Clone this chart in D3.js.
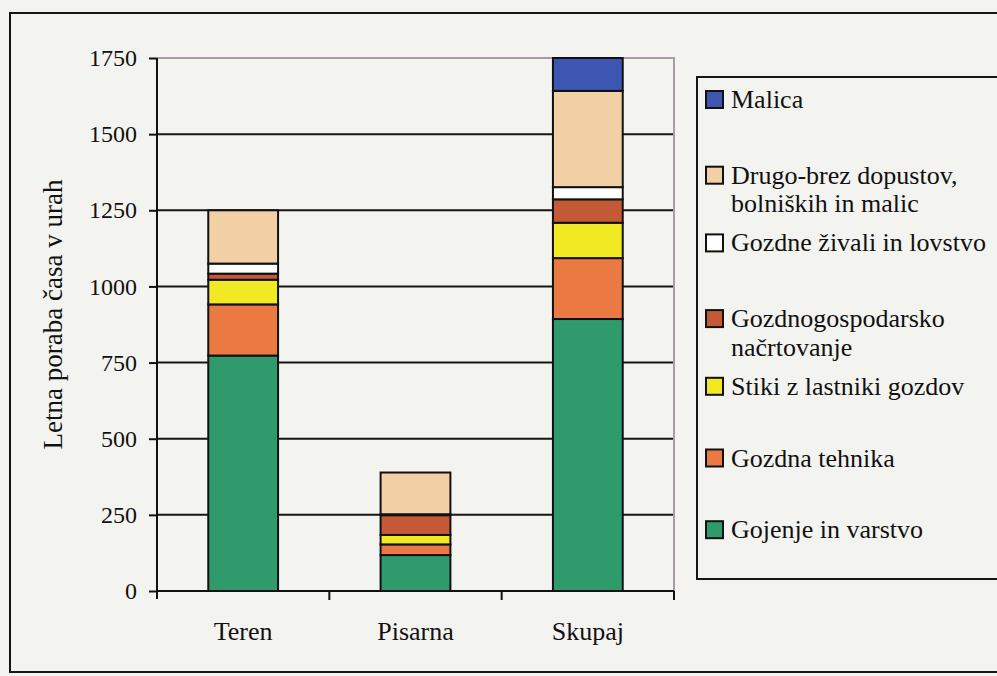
<!DOCTYPE html>
<html>
<head>
<meta charset="UTF-8">
<title>Letna poraba časa</title>
<script src="https://d3js.org/d3.v7.min.js"></script>
<style>
  body { margin: 0; background: #f3f3f0; }
  svg { display: block; }
  svg text { font-family: "Liberation Serif", "DejaVu Serif", serif; fill: #111; }
</style>
</head>
<body>
<svg width="997" height="676"></svg>
<script>
// data (hours per year)
var categories = ["Teren", "Pisarna", "Skupaj"];
var gojenje     = [773, 118, 893];
var tehnika     = [168,  35, 200];
var stiki       = [ 81,  31, 116];
var nacrtovanje = [ 20,  65,  77];
var zivali      = [ 33,   3,  40];
var drugo       = [175, 137, 316];
var malica      = [  0,   0, 108];

var yTicks = [0, 250, 500, 750, 1000, 1250, 1500, 1750];

// series bottom to top
var seriesNames = ["Gojenje in varstvo", "Gozdna tehnika", "Stiki z lastniki gozdov",
  "Gozdnogospodarsko načrtovanje", "Gozdne živali in lovstvo",
  "Drugo-brez dopustov, bolniških in malic", "Malica"];
var seriesValues = [gojenje, tehnika, stiki, nacrtovanje, zivali, drugo, malica];
var seriesColors = ["#2f9b6c", "#ea7a42", "#f1e922", "#c35a35", "#ffffff", "#f3cfa6", "#3d56b1"];
// legend text split as in the picture
var legendLines = [["Gojenje in varstvo"], ["Gozdna tehnika"], ["Stiki z lastniki gozdov"],
  ["Gozdnogospodarsko", "načrtovanje"], ["Gozdne živali in lovstvo"],
  ["Drugo-brez dopustov,", "bolniških in malic"], ["Malica"]];

var serif = "'Liberation Serif', 'DejaVu Serif', serif";

// build table for d3.stack
var table = categories.map(function(c, i) {
  var row = { cat: c };
  seriesNames.forEach(function(s, j) { row[s] = seriesValues[j][i]; });
  return row;
});

var svg = d3.select("svg");

// outer frame
svg.append("rect")
  .attr("x", 10).attr("y", 13)
  .attr("width", 1000).attr("height", 659)
  .attr("fill", "none").attr("stroke", "#151515").attr("stroke-width", 2);

var pLeft = 157, pRight = 674, pTop = 58, pBottom = 591;

var x = d3.scaleBand().domain(categories).range([pLeft, pRight])
  .paddingInner(0.595).paddingOuter(0.2975);
var y = d3.scaleLinear().domain([0, 1750]).range([pBottom, pTop]);

// grid lines
svg.append("g").selectAll("line")
  .data(yTicks.filter(function(d) { return d > 0 && d < 1750; }))
  .enter().append("line")
  .attr("x1", pLeft).attr("x2", pRight)
  .attr("y1", function(d) { return y(d); }).attr("y2", function(d) { return y(d); })
  .attr("stroke", "#161616").attr("stroke-width", 2);

// plot area border top + right (greyish purple)
svg.append("path")
  .attr("d", "M" + pLeft + "," + y(1750) + "H" + pRight + "V" + y(0))
  .attr("fill", "none").attr("stroke", "#a99aa8").attr("stroke-width", 2);

// stacked bars
var stack = d3.stack().keys(seriesNames);
var layers = stack(table);

svg.append("g").selectAll("g")
  .data(layers)
  .enter().append("g")
  .attr("fill", function(d, i) { return seriesColors[i]; })
  .selectAll("rect")
  .data(function(d) { return d.filter(function(p) { return p[1] - p[0] > 0; }); })
  .enter().append("rect")
  .attr("x", function(d) { return x(d.data.cat); })
  .attr("width", x.bandwidth())
  .attr("y", function(d) { return y(d[1]); })
  .attr("height", function(d) { return y(d[0]) - y(d[1]); })
  .attr("stroke", "#111").attr("stroke-width", 2);

// y axis
var yAxis = svg.append("g")
  .attr("transform", "translate(" + pLeft + ",0)")
  .call(d3.axisLeft(y).tickValues(yTicks).tickFormat(d3.format("d"))
    .tickSize(8).tickSizeOuter(0).tickPadding(12));
yAxis.attr("font-family", serif).attr("font-size", 24);
yAxis.select(".domain").remove();
yAxis.selectAll(".tick line").attr("stroke", "#111").attr("stroke-width", 2);
yAxis.selectAll("text").attr("fill", "#111");
svg.append("line")
  .attr("x1", pLeft).attr("x2", pLeft).attr("y1", pTop).attr("y2", pBottom + 8)
  .attr("stroke", "#111").attr("stroke-width", 2);

// x axis
var xAxis = svg.append("g")
  .attr("transform", "translate(0," + pBottom + ")")
  .call(d3.axisBottom(x).tickSize(0).tickPadding(31).tickSizeOuter(0));
xAxis.attr("font-family", serif).attr("font-size", 26);
xAxis.select(".domain").remove();
xAxis.selectAll("text").attr("fill", "#111");
svg.append("line")
  .attr("x1", pLeft).attr("x2", pRight).attr("y1", pBottom).attr("y2", pBottom)
  .attr("stroke", "#111").attr("stroke-width", 2);
// tick marks between categories
svg.append("g").selectAll("line")
  .data(categories)
  .enter().append("line")
  .attr("x1", function(d) { return x(d) + x.bandwidth() + x.step() * x.paddingInner() / 2; })
  .attr("x2", function(d) { return x(d) + x.bandwidth() + x.step() * x.paddingInner() / 2; })
  .attr("y1", pBottom).attr("y2", pBottom + 9)
  .attr("stroke", "#111").attr("stroke-width", 2);

// y axis title
svg.append("text")
  .attr("transform", "translate(62," + ((pTop + pBottom) / 2 - 10) + ") rotate(-90)")
  .attr("text-anchor", "middle")
  .attr("font-family", serif)
  .attr("font-size", 27)
  .text("Letna poraba časa v urah");

// legend
var lg = svg.append("g");
lg.append("rect")
  .attr("x", 697).attr("y", 77).attr("width", 320).attr("height", 502)
  .attr("fill", "none").attr("stroke", "#151515").attr("stroke-width", 2);

var order = d3.range(seriesNames.length).reverse();
var item = lg.selectAll("g.item")
  .data(order)
  .enter().append("g")
  .attr("class", "item")
  .attr("transform", function(d, i) {
    var base = 108 + i * 71.7 + (legendLines[d].length > 1 ? 4 : 0);
    return "translate(0," + base + ")";
  });

item.append("rect")
  .attr("x", 706).attr("y", -17).attr("width", 17).attr("height", 17)
  .attr("fill", function(d) { return seriesColors[d]; })
  .attr("stroke", "#111").attr("stroke-width", 2);

item.append("text")
  .attr("font-family", serif)
  .attr("font-size", 26)
  .selectAll("tspan")
  .data(function(d) { return legendLines[d]; })
  .enter().append("tspan")
  .attr("x", 731)
  .attr("y", function(d, i) { return i * 28.5; })
  .text(function(d) { return d; });
</script>
</body>
</html>
